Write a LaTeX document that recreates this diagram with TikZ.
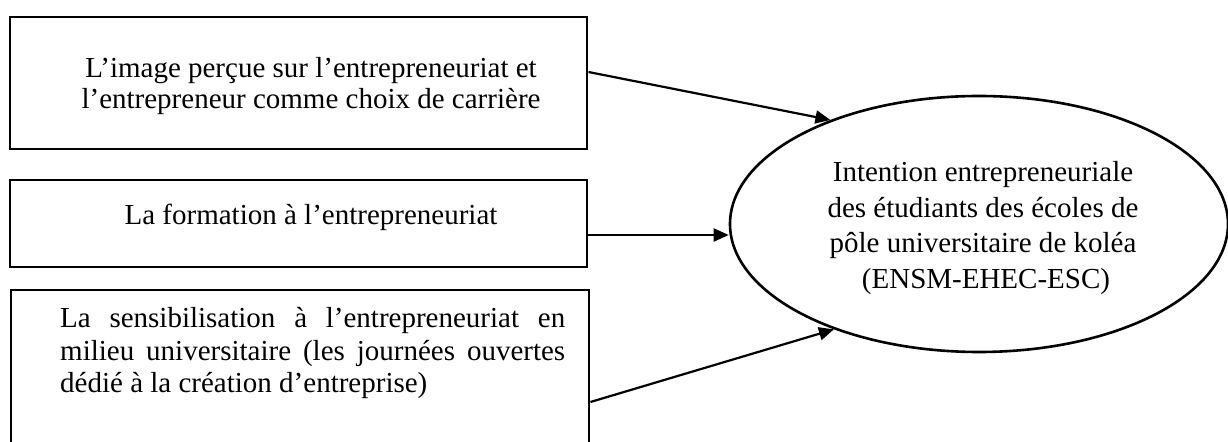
\documentclass[tikz,border=0pt]{standalone}
\usepackage{fontspec}
\setmainfont{Liberation Serif}
\usetikzlibrary{arrows.meta,shapes.geometric,calc}
\begin{document}
\begin{tikzpicture}[x=1bp,y=-1bp,
  boxnode/.style={draw,line width=2.9bp,rectangle,inner sep=0pt},
  ellnode/.style={draw,line width=2.6bp,ellipse,inner sep=0pt},
  txt/.style={inner sep=0pt,font=\fontsize{29bp}{31bp}\selectfont},
  conn/.style={line width=2.2bp,-{Triangle[length=15bp,width=13bp]}}]
\useasboundingbox (0,0) rectangle (1228,442);
\clip (0,0) rectangle (1228,442);
% boxes
\node[boxnode,minimum width=577bp,minimum height=132bp] (b1) at (298.5,83) {};
\node[boxnode,minimum width=577bp,minimum height=87bp] (b2) at (298.5,223.5) {};
\node[boxnode,minimum width=578bp,minimum height=224bp] (b3) at (300,402) {};
\node[ellnode,minimum width=498bp,minimum height=256bp] (e) at (979,224) {};
% texts
\node[txt,align=center] (t1) at (311,86) {L’image perçue sur l’entrepreneuriat et\\l’entrepreneur comme choix de carrière};
\node[txt,anchor=base] (t2) at (311,225) {La formation à l’entrepreneuriat};
\node[txt,anchor=base west,text width=505bp,align=justify,
      font=\fontsize{29bp}{32.5bp}\selectfont] (t3) at (60,328)
  {La sensibilisation à l’entrepreneuriat en\linebreak milieu universitaire (les journées ouvertes\linebreak dédié à la création d’entreprise)};
\node[txt,align=center,font=\fontsize{29bp}{35.5bp}\selectfont] (t4) at (983,228)
  {Intention entrepreneuriale\\des étudiants des écoles de\\pôle universitaire de koléa\\\hspace*{6bp}(ENSM-EHEC-ESC)};
% connectors
\coordinate (a1) at ($(b1.east)+(0,-11)$);
\coordinate (a2) at ($(b2.east)+(0,11.5)$);
\draw[conn] (a1) -- (e.145);
\draw[conn] (a2) -- (a2 -| e.west);
\draw[conn] (b3.east) -- (e.216);
\end{tikzpicture}
\end{document}
